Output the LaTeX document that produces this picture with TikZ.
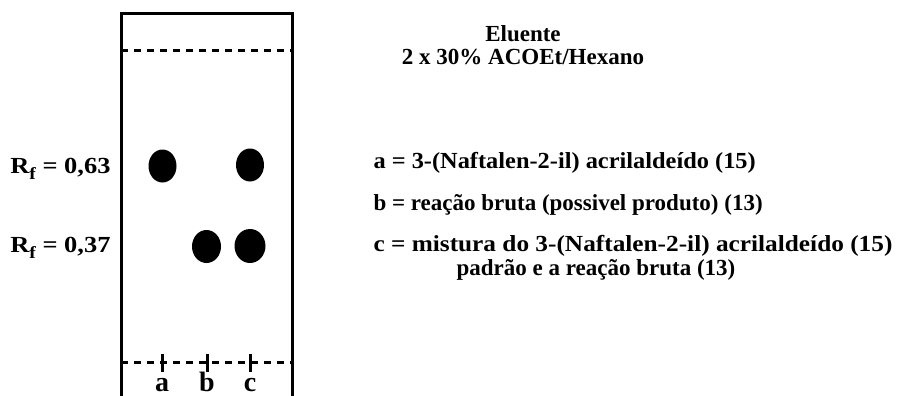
\documentclass[tikz,border=0pt]{standalone}
\usepackage{fontspec}
\setmainfont{Liberation Serif}
\usetikzlibrary{shapes.geometric}

\begin{document}
\begin{tikzpicture}[x=1pt, y=-1pt, line width=3pt,
        spot/.style = {ellipse, fill, inner sep=0pt, minimum width=28pt, minimum height=33pt},
        txt/.style = {font=\fontsize{23}{25}\selectfont\bfseries, inner sep=0pt},
        lane/.style = {font=\fontsize{28}{30}\selectfont\bfseries, inner sep=0pt},
        front/.style = {dash pattern=on 7pt off 6pt}]

            \useasboundingbox (0,0) rectangle (908,396);

            \draw (121,397) -- (121,14) -- (292,14) -- (292,397);
            \draw[front] (121,51) -- (292,51);
            \draw[front] (121,362) -- (292,362);

            \coordinate (ta) at (162,362);
            \coordinate (tb) at (207,362);
            \coordinate (tc) at (250,362);
            \foreach \t in {ta,tb,tc}
                \draw ([yshift=-10pt]\t) -- ([yshift=8pt]\t);

            \node[lane, anchor=base] (la) at (162,391) {a};
            \node[lane, anchor=base] (lb) at (207,391) {b};
            \node[lane, anchor=base] (lc) at (250,391) {c};

            \node[spot] (a1) at (162.5,166) {};
            \node[spot] (c1) at (250,165) {};
            \node[spot, minimum width=29pt] (b2) at (206.5,246.5) {};
            \node[spot, minimum width=31pt, minimum height=34pt] (c2) at (250,246) {};

            \node[txt, anchor=base east] (rf1) at (112,173) {\scalebox{1.15}[1]{R\raisebox{-6pt}{\fontsize{17}{17}\selectfont f} = 0,63}};
            \node[txt, anchor=base east] (rf2) at (112,252) {\scalebox{1.15}[1]{R\raisebox{-6pt}{\fontsize{17}{17}\selectfont f} = 0,37}};

            \node[txt, align=center, anchor=base] (el) at (523,65) {Eluente\\[-2pt]2 x 30\% ACOEt/Hexano};

            \node[txt, anchor=base west] (ka) at (372,168) {\scalebox{1.06}[1]{a = 3-(Naftalen-2-il) acrilaldeído (15)}};
            \node[txt, anchor=base west] (kb) at (372,210) {b = reação bruta (possivel produto) (13)};
            \node[txt, anchor=base west] (kc) at (372,251) {\scalebox{1.1}[1]{c = mistura do 3-(Naftalen-2-il) acrilaldeído (15)}};
            \node[txt, anchor=base] (kd) at (596,275) {padrão e a reação bruta (13)};

\end{tikzpicture}
\end{document}
